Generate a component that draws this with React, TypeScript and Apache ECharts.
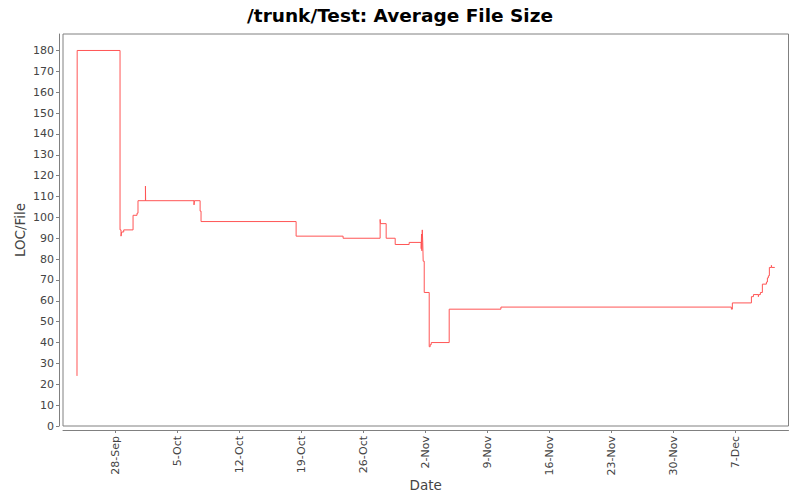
import React, { useEffect, useRef } from "react";
import * as echarts from "echarts";

const YEAR = 2009;
const BASE_DATE = "09-28 00:00";

// commit times (MM-DD HH:mm) and average LOC per file starting at that time
const times = [
  "09-23 15:50", "09-23 16:20", "09-28 12:30", "09-28 15:10", "09-28 17:00", "09-28 22:30",
  "09-29 23:45", "09-30 10:30", "09-30 13:10", "10-01 09:20", "10-01 09:50", "10-06 21:00",
  "10-06 22:00", "10-07 13:30", "10-07 16:00", "10-18 09:40", "10-23 17:00", "10-27 21:20",
  "10-27 22:20", "10-28 13:40", "10-29 14:10", "10-31 04:00", "11-01 12:40", "11-01 13:30",
  "11-01 14:25", "11-01 15:35", "11-01 16:50", "11-01 18:00", "11-01 20:50", "11-02 10:20",
  "11-02 13:00", "11-02 15:50", "11-04 16:30", "11-10 12:40", "12-06 13:10", "12-06 15:50",
  "12-08 19:30", "12-09 01:00", "12-09 14:20", "12-09 15:35", "12-09 19:50", "12-10 01:10",
  "12-10 12:10", "12-10 14:50", "12-10 17:30", "12-10 20:10", "12-11 01:40", "12-11 02:25",
  "12-11 10:50",
];
const locPerFile = [
  24, 180, 94, 91, 93, 94,
  101, 102, 108, 115, 108, 106,
  108, 103, 98, 91, 90, 99,
  97, 90, 87, 88, 85, 92,
  84, 94, 88, 79, 64, 38,
  39, 40, 56, 57, 56, 59,
  62, 63, 62, 63, 64, 68,
  69, 71, 72, 76, 77, 76,
  76,
];

const xTickLabels = ["28-Sep", "5-Oct", "12-Oct", "19-Oct", "26-Oct", "2-Nov", "9-Nov", "16-Nov", "23-Nov", "30-Nov", "7-Dec"];
const yTickValues = [0, 10, 20, 30, 40, 50, 60, 70, 80, 90, 100, 110, 120, 130, 140, 150, 160, 170, 180];

function toMs(s: string): number {
  const [md, hm] = s.split(" ");
  const [m, d] = md.split("-").map(Number);
  const [h, mi] = hm.split(":").map(Number);
  return Date.UTC(YEAR, m - 1, d, h, mi);
}
const baseMs = toMs(BASE_DATE);
const toDay = (s: string) => (toMs(s) - baseMs) / 86400000;

export default function App() {
  const ref = useRef<HTMLDivElement>(null);
  useEffect(() => {
    if (!ref.current) return;
    const chart = echarts.init(ref.current, undefined, { renderer: "svg" });
    const data = times.map((t, i) => [toDay(t), locPerFile[i]]);
    const xTickValues = xTickLabels.map((_, i) => i * 7);
    const font = "DejaVu Sans";
    chart.setOption({
      animation: false,
      backgroundColor: "#ffffff",
      title: {
        text: "/trunk/Test: Average File Size",
        left: "center",
        top: 1,
        textStyle: { fontFamily: font, fontSize: 18.5, fontWeight: "bold", color: "#000000" },
      },
      grid: {
        left: 63,
        right: 11.5,
        top: 34,
        bottom: 74,
        show: true,
        borderColor: "#808080",
        borderWidth: 1,
        backgroundColor: "#ffffff",
        containLabel: false,
        outerBoundsMode: "none",
      },
      xAxis: {
        type: "value",
        min: -5.92,
        max: 76.0,
        offset: 4,
        name: "Date",
        nameLocation: "middle",
        nameGap: 48,
        nameMoveOverlap: false,
        nameTextStyle: { fontFamily: font, fontSize: 13.5, color: "#444444" },
        axisLine: { show: true, onZero: false, lineStyle: { color: "#808080", width: 1 } },
        axisTick: { show: true, length: 3, lineStyle: { color: "#808080" }, customValues: xTickValues },
        axisLabel: {
          customValues: xTickValues,
          rotate: 90,
          margin: 6,
          fontFamily: font,
          fontSize: 11,
          color: "#444444",
          formatter: (v: number) => {
            const idx = Math.round(v / 7);
            return xTickLabels[idx] ?? "";
          },
        },
        splitLine: { show: false },
      },
      yAxis: {
        type: "value",
        min: 0,
        max: 187.9,
        offset: 4,
        name: "LOC/File",
        nameLocation: "middle",
        nameGap: 32,
        nameRotate: 90,
        nameMoveOverlap: false,
        nameTextStyle: { fontFamily: font, fontSize: 13.5, color: "#444444" },
        axisLine: { show: true, onZero: false, lineStyle: { color: "#808080", width: 1 } },
        axisTick: { show: true, length: 3, lineStyle: { color: "#808080" }, customValues: yTickValues },
        axisLabel: {
          customValues: yTickValues,
          margin: 5,
          fontFamily: font,
          fontSize: 11,
          color: "#444444",
        },
        splitLine: { show: false },
      },
      series: [
        {
          type: "line",
          step: "end",
          data,
          showSymbol: false,
          lineStyle: { color: "#ff5555", width: 1 },
          itemStyle: { color: "#ff5555" },
        },
      ],
    });
    return () => chart.dispose();
  }, []);
  return (
    <div
      ref={ref}
      style={{ position: "absolute", left: 0, top: 0, width: 800, height: 500 }}
    />
  );
}
